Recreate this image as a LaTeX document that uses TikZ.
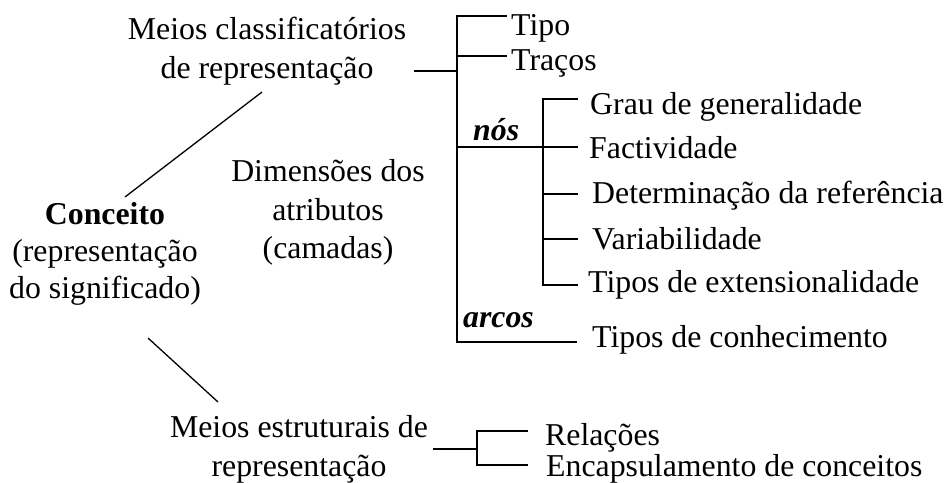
\documentclass[tikz,border=0pt]{standalone}
\usepackage{fontspec}
\setmainfont{Liberation Serif}
\begin{document}
\begin{tikzpicture}[x=1pt,y=-1pt,
  txt/.style={inner sep=0pt, font=\fontsize{31.8}{36}\selectfont},
  lbl/.style={txt, anchor=base},
  item/.style={txt, anchor=base west},
  br/.style={line width=1.6pt},
  diag/.style={line width=1.3pt}]
\useasboundingbox (0,0) rectangle (945,482);
% left labels
\node[lbl] (mcA) at (267,39) {Meios classificatórios};
\node[lbl] (mcB) at (267,78) {de representação};
\node[lbl,font=\fontsize{31.8}{36}\selectfont\bfseries] (coA) at (105,224) {Conceito};
\node[lbl] (coB) at (105,261) {(representação};
\node[lbl] (coC) at (105,298) {do significado)};
\node[lbl] (diA) at (328,181) {Dimensões dos};
\node[lbl] (diB) at (328,220) {atributos};
\node[lbl] (diC) at (328,258) {(camadas)};
\node[lbl] (meA) at (299,437) {Meios estruturais de};
\node[lbl] (meB) at (299,476) {representação};
% right items
\node[item] (tipo) at (511,35) {Tipo};
\node[item] (tracos) at (511,70) {Traços};
\node[item,font=\fontsize{31.8}{36}\selectfont\bfseries\itshape] (nos) at (473,140) {nós};
\node[item,font=\fontsize{31.8}{36}\selectfont\bfseries\itshape] (arcos) at (463,327) {arcos};
\node[item] (grau) at (590,114) {Grau de generalidade};
\node[item] (fact) at (589,158) {Factividade};
\node[item] (det) at (592,203) {Determinação da referência};
\node[item] (var) at (592,249) {Variabilidade};
\node[item] (ext) at (588,292) {Tipos de extensionalidade};
\node[item] (conh) at (592,347) {Tipos de conhecimento};
\node[item] (rel) at (545,445) {Relações};
\node[item] (enc) at (546,476) {Encapsulamento de conceitos};
% junction coordinates
\coordinate (mcEnd) at (414,71);
\coordinate (jA) at (457,71);
\coordinate (jTop) at (457,16);
\coordinate (jTr) at (457,56);
\coordinate (jNos) at (457,147);
\coordinate (jBot) at (457,342);
\coordinate (tipoEnd) at (507,16);
\coordinate (tracEnd) at (507,56);
\coordinate (kTop) at (543,99);
\coordinate (kDet) at (543,194);
\coordinate (kVar) at (543,239);
\coordinate (kBot) at (543,285);
\coordinate (grauEnd) at (578,99);
\coordinate (factEnd) at (578,147);
\coordinate (detEnd) at (578,194);
\coordinate (varEnd) at (578,239);
\coordinate (extEnd) at (578,285);
\coordinate (conhEnd) at (577,342);
\coordinate (meEnd) at (433,449);
\coordinate (bJ) at (477,449);
\coordinate (bTop) at (477,431);
\coordinate (bBot) at (477,465);
\coordinate (relEnd) at (528,431);
\coordinate (encEnd) at (528,465);
\coordinate (dAa) at (125,197);
\coordinate (dAb) at (262,92);
\coordinate (dBa) at (148,338);
\coordinate (dBb) at (218,402);
% connectors
\draw[br] (mcEnd) -- (jA);
\draw[br] (tipoEnd) -- (jTop) -- (jBot) -- (conhEnd);
\draw[br] (jTr) -- (tracEnd);
\draw[br] (jNos) -- (factEnd);
\draw[br] (grauEnd) -- (kTop) -- (kBot) -- (extEnd);
\draw[br] (kDet) -- (detEnd);
\draw[br] (kVar) -- (varEnd);
\draw[br] (meEnd) -- (bJ);
\draw[br] (relEnd) -- (bTop) -- (bBot) -- (encEnd);
\draw[diag] (dAa) -- (dAb);
\draw[diag] (dBa) -- (dBb);
\end{tikzpicture}
\end{document}
